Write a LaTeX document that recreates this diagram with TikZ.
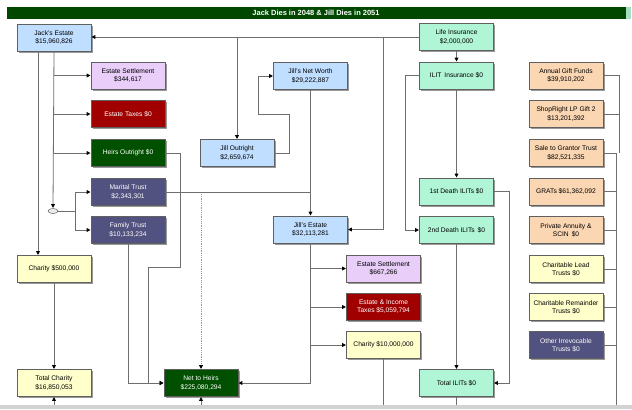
\documentclass[tikz,border=0pt]{standalone}
\usepackage{fontspec}
\setmainfont{Liberation Sans}
\usetikzlibrary{arrows.meta,shadows,shapes.geometric}
\definecolor{cblue}{RGB}{192,222,255}
\definecolor{clil}{RGB}{232,206,248}
\definecolor{cred}{RGB}{160,0,0}
\definecolor{cgrn}{RGB}{0,80,0}
\definecolor{cslate}{RGB}{82,82,128}
\definecolor{cmint}{RGB}{176,245,213}
\definecolor{cpeach}{RGB}{250,214,178}
\definecolor{cyel}{RGB}{255,255,204}
\definecolor{cline}{RGB}{110,110,110}
\begin{document}
\begin{tikzpicture}[x=1bp,y=-1bp,
  box/.style={draw=gray!75!black, line width=0.5bp, minimum width=74bp, minimum height=27bp,
    inner sep=1bp, align=center, font=\fontsize{6.7}{8.2}\selectfont,
    drop shadow={shadow xshift=1.7bp, shadow yshift=-1.7bp, fill=gray!80, opacity=1}},
  lb/.style={box, fill=cblue},
  lil/.style={box, fill=clil},
  dred/.style={box, fill=cred, text=white},
  dgrn/.style={box, fill=cgrn, text=white},
  slate/.style={box, fill=cslate, text=white},
  mint/.style={box, fill=cmint},
  peach/.style={box, fill=cpeach},
  lyel/.style={box, fill=cyel},
  wire/.style={draw=cline, line width=0.8bp},
  conn/.style={wire, -{Triangle[length=3.8bp,width=3.8bp,color=black]}, shorten >=0.3bp},
  dotconn/.style={conn, densely dotted, draw=gray!80}
]
\useasboundingbox (0,0) rectangle (632,409);
\fill[white] (0,0) rectangle (632,409);
% title bar
\fill[cgrn!90!black] (7,7) rectangle (626,18.5);
\fill[cmint!80!gray] (626,7) rectangle (631,18.5);
\node[font=\fontsize{7.5}{8}\selectfont\bfseries, text=white] (title) at (316,12.8) {Jack Dies in 2048 \& Jill Dies in 2051};
% bottom strip
\fill[gray!35] (0,404.5) rectangle (632,409);

% nodes
\node[lb] (je) at (54,37.5) {Jack's Estate\\\$15,960,826};
\node[lil] (es1) at (128,75.5) {Estate Settlement\\\$344,617};
\node[dred] (et) at (128,114) {Estate Taxes \$0};
\node[dgrn] (ho) at (128,153) {Heirs Outright \$0};
\node[slate] (mt) at (128,192) {Marital Trust\\\$2,343,301};
\node[slate] (ft) at (128,230) {Family Trust\\\$10,133,234};
\node[lyel] (ch1) at (54,269) {Charity \$500,000};
\node[lyel] (tc) at (54,383) {Total Charity\\\$16,850,053};
\node[dgrn] (nh) at (201,383) {Net to Heirs\\\$225,080,294};
\node[lb] (jo) at (237,153) {Jill Outright\\\$2,659,674};
\node[lb] (jnw) at (310.5,76) {Jill's Net Worth\\\$29,222,887};
\node[lb] (jes) at (310.5,229.5) {Jill's Estate\\\$32,113,281};
\node[lil] (es2) at (383.5,268.5) {Estate Settlement\\\$667,266};
\node[dred] (eit) at (383.5,307) {Estate \& Income\\Taxes \$5,059,794};
\node[lyel] (ch2) at (383.5,345) {Charity \$10,000,000};
\node[mint] (li) at (456.5,37) {Life Insurance\\\$2,000,000};
\node[mint] (ilit) at (456.5,75.5) {ILIT\, Insurance \$0};
\node[mint] (d1) at (456.5,191.5) {1st Death ILITs \$0};
\node[mint] (d2) at (456.5,230) {2nd Death ILITs\, \$0};
\node[mint] (til) at (456.5,383) {Total ILITs \$0};
\node[peach] (r1) at (566,75.5) {Annual Gift Funds\\\$39,910,202};
\node[peach] (r2) at (566,114) {ShopRight LP Gift 2\\\$13,201,392};
\node[peach] (r3) at (566,153) {Sale to Grantor Trust\\\$82,521,335};
\node[peach] (r4) at (566,191.5) {GRATs \$61,362,092};
\node[peach] (r5) at (566,230) {Private Annuity \&\\SCIN\, \$0};
\node[lyel] (r6) at (566,269) {Charitable Lead\\Trusts \$0};
\node[lyel] (r7) at (566,307) {Charitable Remainder\\Trusts \$0};
\node[slate] (r8) at (566,345) {Other Irrevocable\\Trusts \$0};
\node[draw=cline, fill=gray!15, line width=0.6bp, ellipse, minimum width=10bp, minimum height=5bp, inner sep=0pt] (ell) at (53,211) {};

% helper coordinates
\coordinate (lix) at (383,37);
\coordinate (jb) at (75,211);
\coordinate (tcin) at (54,404.5);
\coordinate (nhin) at (201,404.5);
\coordinate (dotstart) at (201,194);

% connectors
\draw[conn] (li.west) -- (je.east |- li.west);
\draw[conn] (li.west -| jo.north) -- (jo.north);
\draw[conn] (lix) |- (jes.east);
\draw[conn] ([xshift=-16bp]je.south) -- ([xshift=-16bp]ch1.north);
\draw[conn] (je.south) -- (ell.north);
\draw[conn] (je.south |- es1.west) -- (es1.west);
\draw[conn] (je.south |- et.west) -- (et.west);
\draw[conn] (je.south |- ho.west) -- (ho.west);
\draw[wire] (ell.east) -- (jb);
\draw[conn] (jb) |- (mt.west);
\draw[conn] (jb) |- (ft.west);
\draw[conn] (ch1.south) -- (tc.north);
\draw[conn] (tcin) -- (tc.south);
\draw[conn] (nhin) -- (nh.south);
\draw[conn] (ho.east) -- (180,153) -- (180,267) -- (148,267) -- (148,383) -- (nh.west);
\draw[conn] (ft.south) |- (nh.west);
\draw[wire] (mt.east) -- (mt.east -| jes.north);
\draw[conn] (jnw.south) -- (jes.north);
\draw[dotconn] (dotstart) -- (nh.north);
\draw[conn] (jo.east) -- (289,153) -- (289,114) -- (258,114) -- (258,76) -- (jnw.west);
\draw[conn] (jes.south) |- (nh.east);
\draw[conn] (jes.south |- es2.west) -- (es2.west);
\draw[conn] (jes.south |- eit.west) -- (eit.west);
\draw[conn] (jes.south |- ch2.west) -- (ch2.west);
\draw[wire] (ch2.south) -- (383.5,404.5);
\draw[conn] (li.south) -- (ilit.north);
\draw[conn] (ilit.south) -- (d1.north);
\draw[conn] (ilit.west) -- (405,75.5) |- (d2.west);
\draw[conn] (d1.east) -- (509,191.5) |- (til.east);
\draw[conn] (d2.south) -- (til.north);
\draw[wire] (til.south) -- (456.5,404.5);
% right column
\draw[wire] (r1.east) -- (619,75.5) -- (619,153);
\draw[wire] (r2.east) -- (619,114);
\draw[wire] (r3.east) -- (616,153) -- (616,404.5);
\draw[wire] (r4.east) -- (616,191.5);
\draw[wire] (r5.east) -- (616,230);
\draw[wire] (r6.east) -- (616,269);
\draw[wire] (r7.east) -- (616,307);
\draw[wire] (r8.east) -- (616,345);
\end{tikzpicture}
\end{document}
